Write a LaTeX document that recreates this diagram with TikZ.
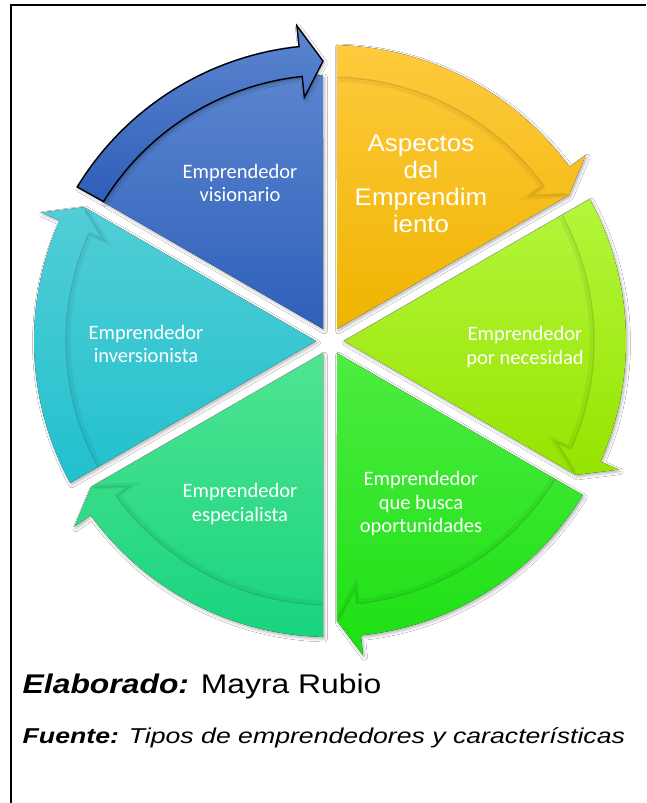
\documentclass[tikz,border=0pt]{standalone}
\usepackage{fontspec}
\usepackage{graphicx}
\usetikzlibrary{calc,shadows.blur}
\setmainfont{Liberation Sans}
\newfontfamily\calfont{Carlito}
\definecolor{yTop}{RGB}{255,202,62}
\definecolor{yBot}{RGB}{238,180,0}
\definecolor{lTop}{RGB}{180,246,60}
\definecolor{lBot}{RGB}{150,228,0}
\definecolor{gTop}{RGB}{78,236,66}
\definecolor{gBot}{RGB}{28,224,18}
\definecolor{tTop}{RGB}{80,228,146}
\definecolor{tBot}{RGB}{24,212,126}
\definecolor{cTop}{RGB}{82,206,214}
\definecolor{cBot}{RGB}{34,192,206}
\definecolor{bTop}{RGB}{90,132,206}
\definecolor{bBot}{RGB}{46,96,186}
\definecolor{aTop}{RGB}{92,134,208}
\definecolor{aBot}{RGB}{46,94,184}
\tikzset{
  lbl/.style={text=white, align=center, font=\calfont\fontsize{20.5}{23.5}\selectfont, inner sep=0pt},
  segshadow/.style={blur shadow={shadow xshift=1.5pt, shadow yshift=-2pt, shadow blur radius=3pt, shadow opacity=30}},
  innershadeA/.style={black, opacity=0.05, line width=5pt},
  innershadeB/.style={black, opacity=0.08, line width=1.5pt}
}
\begin{document}
\begin{tikzpicture}[x=1pt,y=1pt]
\fill[white] (0,0) rectangle (646,-803);
\path[use as bounding box] (0,0) rectangle (646,-803);
\coordinate (c) at (330,-341);
% frame
\draw[line width=2pt] (11,-803) -- (11,-5) -- (646,-5);
% five plain segments
\foreach \s/\e/\ct/\cb in {90/30/yTop/yBot, 30/-30/lTop/lBot, -30/-90/gTop/gBot, -90/-150/tTop/tBot, 210/150/cTop/cBot}{
  \fill[top color=\ct, bottom color=\cb, segshadow]
    ($(c)+({(\s+\e)/2}:14)$) -- ($(c)+({\s-1.355}:296)$)
    arc[start angle={\s-1.355}, end angle={\e+6}, radius=296]
    -- ($(c)+({\e+6}:316)$) -- ($(c)+({\e+1.43}:280)$) -- cycle;
  \draw[innershadeA]
    ($(c)+({\s-1.8}:262)$) arc[start angle={\s-1.8}, end angle={\e+6}, radius=262]
    -- ($(c)+({\e+6}:245)$) -- ($(c)+({\e+1.8}:277)$);
  \draw[innershadeB]
    ($(c)+({\s-1.6}:264)$) arc[start angle={\s-1.6}, end angle={\e+6}, radius=264]
    -- ($(c)+({\e+6}:247)$) -- ($(c)+({\e+1.6}:279)$);
}
% blue segment
\fill[top color=bTop, bottom color=bBot, segshadow]
  ($(c)+(120:14)$) -- ($(c)+(148.49:266)$)
  arc[start angle=148.49, end angle=91.51, radius=266] -- cycle;
\draw[black, line width=1.4pt, top color=aTop, bottom color=aBot, segshadow]
  ($(c)+(148.64:296)$) arc[start angle=148.64, end angle=96, radius=296]
  -- ($(c)+(96:317)$) -- ($(c)+(91.43:280)$) -- ($(c)+(96:245)$)
  -- ($(c)+(96:266)$) arc[start angle=96, end angle=148.4, radius=266] -- cycle;
% labels
\node[lbl] (tvis) at (240,-183) {Emprendedor\\visionario};
\node[lbl] (tinv) at (146,-344) {Emprendedor\\inversionista};
\node[lbl] (tnec) at (525,-347) {Emprendedor\\por necesidad};
\node[lbl] (topo) at (421,-504) {Emprendedor\\que busca\\oportunidades};
\node[lbl] (tesp) at (240,-504) {Emprendedor\\especialista};
\node[text=white, align=center, inner sep=0pt, font=\fontsize{24}{27}\selectfont] (tasp) at (421,-184)
  {\scalebox{1.08}[1]{Aspectos}\\\scalebox{1.08}[1]{del}\\\scalebox{1.08}[1]{Emprendim}\\\scalebox{1.08}[1]{iento}};
% footer texts
\node[anchor=base west, inner sep=0pt, font=\fontsize{27}{32}\selectfont] (elab) at (22.5,-693)
  {\scalebox{1.18}[1]{{\bfseries\itshape Elaborado:} Mayra Rubio}};
\node[anchor=base west, inner sep=0pt, font=\fontsize{21.5}{26}\selectfont] (fuen) at (22.5,-743)
  {\scalebox{1.24}[1]{{\bfseries\itshape Fuente:} {\itshape Tipos de emprendedores y características}}};
\end{tikzpicture}
\end{document}
